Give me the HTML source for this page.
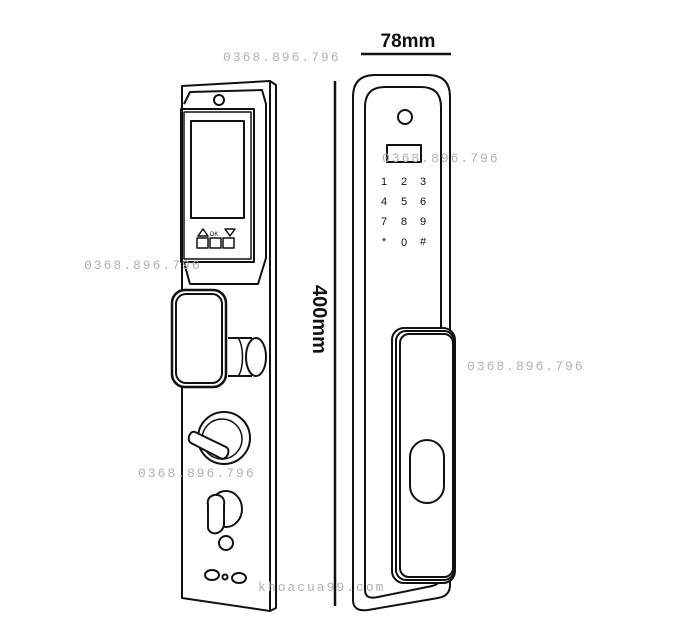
<!DOCTYPE html>
<html><head><style>
html,body{margin:0;padding:0;background:#fff;}
svg{display:block;}
.wm{font-family:"Liberation Mono",monospace;fill:#b0b0b0;stroke:none;font-size:13px;letter-spacing:2px;}
</style></head><body>
<svg width="688" height="630" viewBox="0 0 688 630" xmlns="http://www.w3.org/2000/svg" fill="none" stroke="#111" stroke-width="2" stroke-linejoin="round">
<!-- LEFT LOCK body -->
<path d="M182,86 L270,81 L276,85 L276,608 L270,611 L182,598 Z"/>
<path d="M270,81 L270,611"/>
<!-- screen housing -->
<path d="M184,104 L190,92 L262,90 L266,104 L266,258 L258,284 L190,284 L184,262"/>
<rect x="181" y="109" width="73" height="153"/>
<rect x="184" y="112" width="67" height="147" stroke-width="1.5"/>
<circle cx="219" cy="100" r="5"/>
<rect x="191" y="121" width="53" height="97"/>
<path d="M198,236 L203,229 L208,236 Z" stroke-width="1.5"/>
<path d="M225,229 L235,229 L230,236 Z" stroke-width="1.5"/>
<text x="214" y="236" font-family="Liberation Sans,sans-serif" font-size="6" fill="#111" stroke="none" text-anchor="middle">OK</text>
<rect x="197" y="238" width="11" height="10" stroke-width="1.5"/>
<rect x="210" y="238" width="11" height="10" stroke-width="1.5"/>
<rect x="223" y="238" width="11" height="10" stroke-width="1.5"/>
<!-- knob -->
<ellipse cx="256" cy="357" rx="10" ry="19"/>
<path d="M228,338 L252,338 M228,376 L252,376"/>
<path d="M238,338 C244,345 244,370 238,376" stroke-width="1.5"/>
<!-- handle -->
<rect x="172" y="290" width="54" height="97" rx="13" fill="#fff" stroke-width="2.5"/>
<rect x="176" y="294" width="46" height="89" rx="10"/>
<!-- thumb turn -->
<circle cx="224" cy="438" r="26"/>
<circle cx="222" cy="439" r="20" stroke-width="1.5"/>
<path d="M195,432 L226,447 C232,450 226,462 220,458 L191,443 C186,440 190,430 195,432 Z" fill="#fff"/>
<!-- key cylinder -->
<ellipse cx="226" cy="509" rx="16" ry="18"/>
<path d="M210,497 C216,492 226,496 224,505 L224,525 C222,535 210,536 208,528 L208,505 C207,500 209,498 210,497 Z" fill="#fff"/>
<circle cx="226" cy="543" r="7"/>
<ellipse cx="212" cy="575" rx="7" ry="5"/>
<circle cx="225" cy="577" r="2.5"/>
<ellipse cx="239" cy="578" rx="7" ry="5"/>
<!-- dimension vertical -->
<line x1="335" y1="81" x2="335" y2="606" stroke-width="2.5"/>
<text transform="translate(313,285) rotate(90)" font-family="Liberation Sans,sans-serif" font-weight="bold" font-size="20" fill="#111" stroke="none">400mm</text>
<!-- dimension horizontal -->
<text x="408" y="47" text-anchor="middle" font-family="Liberation Sans,sans-serif" font-weight="bold" font-size="19" fill="#111" stroke="none">78mm</text>
<line x1="361" y1="54" x2="451" y2="54" stroke-width="2.5"/>
<!-- RIGHT LOCK -->
<path d="M353,600 L353,97 Q353,75 375,75 L428,75 Q450,75 450,97 L450,585 Q450,596 438,598 L368,610 Q353,612 353,600 Z"/>
<path d="M365,590 L365,107 Q365,87 385,87 L421,87 Q441,87 441,107 L441,575 Q441,584 432,586 L378,597 Q365,600 365,590 Z"/>
<circle cx="405" cy="117" r="7"/>
<rect x="387" y="145" width="34" height="17"/>
<g font-family="Liberation Sans,sans-serif" font-size="11" fill="#111" stroke="none" text-anchor="middle">
<text x="384" y="185">1</text><text x="404" y="185">2</text><text x="423" y="185">3</text>
<text x="384" y="205">4</text><text x="404" y="205">5</text><text x="423" y="205">6</text>
<text x="384" y="225">7</text><text x="404" y="225">8</text><text x="423" y="225">9</text>
<text x="384" y="245">*</text><text x="404" y="246">0</text><text x="423" y="245">#</text>
</g>
<!-- right handle -->
<rect x="392" y="328" width="63" height="255" rx="12" fill="#fff"/>
<rect x="396" y="331" width="58" height="249" rx="10"/>
<rect x="400" y="334" width="53" height="243" rx="9"/>
<rect x="410" y="440" width="34" height="63" rx="17"/>
<!-- watermarks -->
<text class="wm" x="223" y="61">0368.896.796</text>
<text class="wm" x="382" y="162">0368.896.796</text>
<text class="wm" x="467" y="370">0368.896.796</text>
<text class="wm" x="84" y="269">0368.896.796</text>
<text class="wm" x="138" y="477">0368.896.796</text>
<text class="wm" x="258" y="591">khoacua99.com</text>
</svg>
</body></html>
